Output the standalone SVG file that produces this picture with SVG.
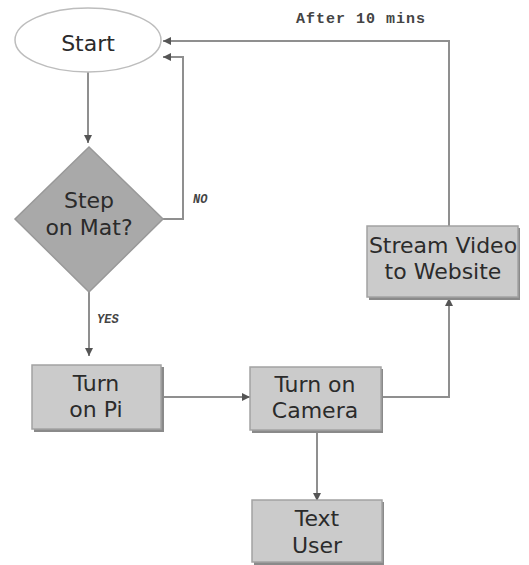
<svg xmlns="http://www.w3.org/2000/svg" width="529" height="565" viewBox="0 0 529 565">
<style>
.node-text{font-family:"DejaVu Sans","Liberation Sans",sans-serif;font-size:22px;fill:#2b2b2b;text-anchor:middle}
.box{fill:#cbcbcb;stroke:#a3a3a3;stroke-width:1.5}
.shadow{fill:#8a8a8a}
.conn{fill:none;stroke:#8f8f8f;stroke-width:2}
.lbl{font-family:"Liberation Mono","Courier New",monospace;font-weight:bold;fill:#444}
</style>
<defs>
<marker id="arr" viewBox="0 0 10 10" refX="10" refY="5" markerWidth="4" markerHeight="4" orient="auto" markerUnits="strokeWidth">
<path d="M0,0 L10,5 L0,10 z" fill="#555"/>
</marker>
</defs>
<rect width="529" height="565" fill="#fff"/>
<g id="connectors">
<path class="conn" d="M88,72 V143" marker-end="url(#arr)"/>
<path class="conn" d="M163,219 H183 V57 H163" marker-end="url(#arr)"/>
<path class="conn" d="M449,226 V41 H163" marker-end="url(#arr)"/>
<path class="conn" d="M89,292 V356" marker-end="url(#arr)"/>
<path class="conn" d="M162,397 H250" marker-end="url(#arr)"/>
<path class="conn" d="M383,397 H449 V298" marker-end="url(#arr)"/>
<path class="conn" d="M317,431 V501" marker-end="url(#arr)"/>
<text class="lbl" x="296" y="23" font-size="15" letter-spacing="1">After 10 mins</text>
<text class="lbl" x="193" y="203" font-size="12" font-style="italic">NO</text>
<text class="lbl" x="97" y="323" font-size="12" font-style="italic">YES</text>
</g>
<g id="start">
<ellipse cx="88" cy="40" rx="73" ry="32" fill="#fff" stroke="#bdbdbd" stroke-width="1.5"/>
<text class="node-text" x="88" y="51" font-size="27">Start</text>
</g>
<g id="step-on-mat">
<polygon points="89,147 163,219 89,292 15,219" fill="#a9a9a9" stroke="#999" stroke-width="1.5"/>
<text class="node-text" x="89" y="208">Step</text>
<text class="node-text" x="89" y="235">on Mat?</text>
</g>
<g id="turn-on-pi">
<rect class="shadow" x="34" y="367" width="130" height="65"/>
<rect class="box" x="32" y="365" width="129" height="64"/>
<text class="node-text" x="96" y="391">Turn</text>
<text class="node-text" x="96" y="417">on Pi</text>
</g>
<g id="turn-on-camera">
<rect class="shadow" x="252" y="369" width="131" height="64"/>
<rect class="box" x="250" y="367" width="131" height="63"/>
<text class="node-text" x="315" y="392">Turn on</text>
<text class="node-text" x="315" y="418">Camera</text>
</g>
<g id="stream-video">
<rect class="shadow" x="369" y="228" width="151" height="72"/>
<rect class="box" x="367" y="226" width="151" height="71"/>
<text class="node-text" x="443" y="253">Stream Video</text>
<text class="node-text" x="443" y="279">to Website</text>
</g>
<g id="text-user">
<rect class="shadow" x="254" y="502" width="130" height="63"/>
<rect class="box" x="252" y="500" width="130" height="62"/>
<text class="node-text" x="317" y="526">Text</text>
<text class="node-text" x="317" y="553">User</text>
</g>
</svg>
